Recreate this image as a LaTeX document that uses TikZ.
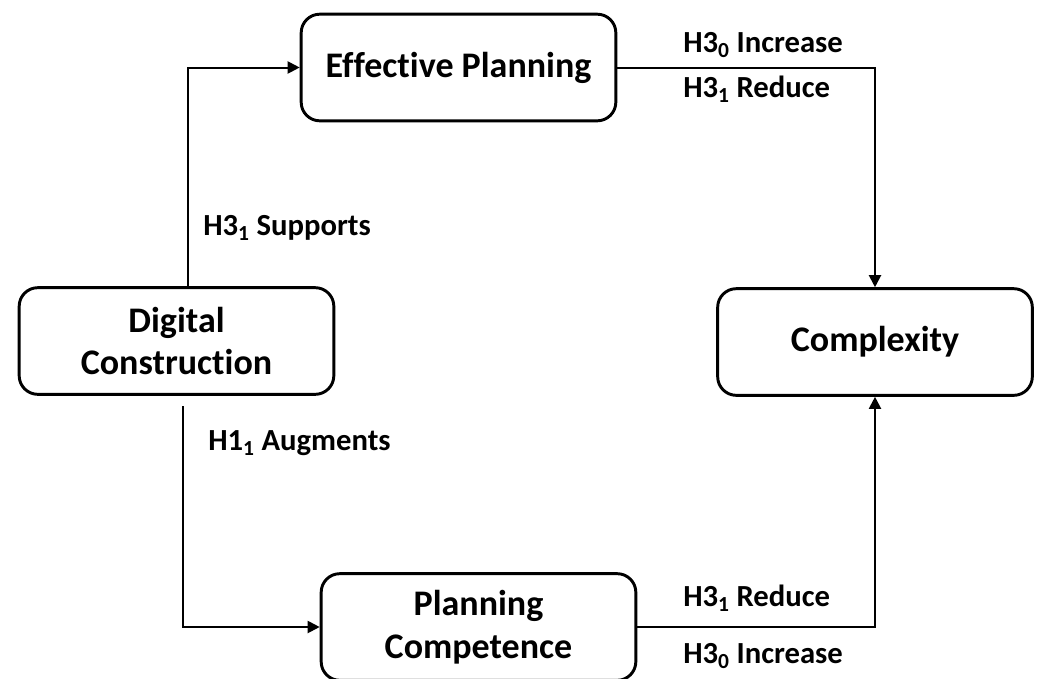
\documentclass[tikz,border=0pt]{standalone}
\usepackage{fontspec}
\setmainfont{Carlito}[Ligatures=NoCommon]
\usetikzlibrary{arrows.meta}

\begin{document}
\begin{tikzpicture}[x=0.75pt,y=-0.75pt,
  box/.style={draw,line width=2.2pt,rounded corners=14pt,minimum width=236pt,minimum height=80pt,
    align=center,font=\fontsize{27}{32}\selectfont\bfseries},
  link/.style={line width=1.5pt,-{Triangle[length=9pt,width=9pt]}},
  lbl/.style={anchor=west,inner sep=0pt,font=\fontsize{23}{27}\selectfont\bfseries}]
\useasboundingbox (0,0) rectangle (1040,679);
% boxes
\node[box] (plan) at (458.5,67.5) {Effective Planning};
\node[box] (digi) at (176.5,341) {Digital\\Construction};
\node[box] (cplx) at (875,342) {Complexity};
\node[box] (comp) at (478.5,627) {Planning\\Competence};
% links
\draw[link] ([xshift=8.6pt]digi.north) |- (plan.west);
\draw[link] (plan.east) -| (cplx.north);
\coordinate (gap) at (183,406);
\draw[link] (gap) |- (comp.west);
\draw[link] (comp.east) -| (cplx.south);
% labels
\node[lbl] (inc1) at (683,45) {H3\textsubscript{0} Increase};
\node[lbl] (red1) at (683,89) {H3\textsubscript{1} Reduce};
\node[lbl] (sup) at (203,228) {H3\textsubscript{1} Supports};
\node[lbl] (aug) at (208,443) {H1\textsubscript{1} Augments};
\node[lbl] (red2) at (683,598) {H3\textsubscript{1} Reduce};
\node[lbl] (inc2) at (683,656) {H3\textsubscript{0} Increase};
\end{tikzpicture}
\end{document}
